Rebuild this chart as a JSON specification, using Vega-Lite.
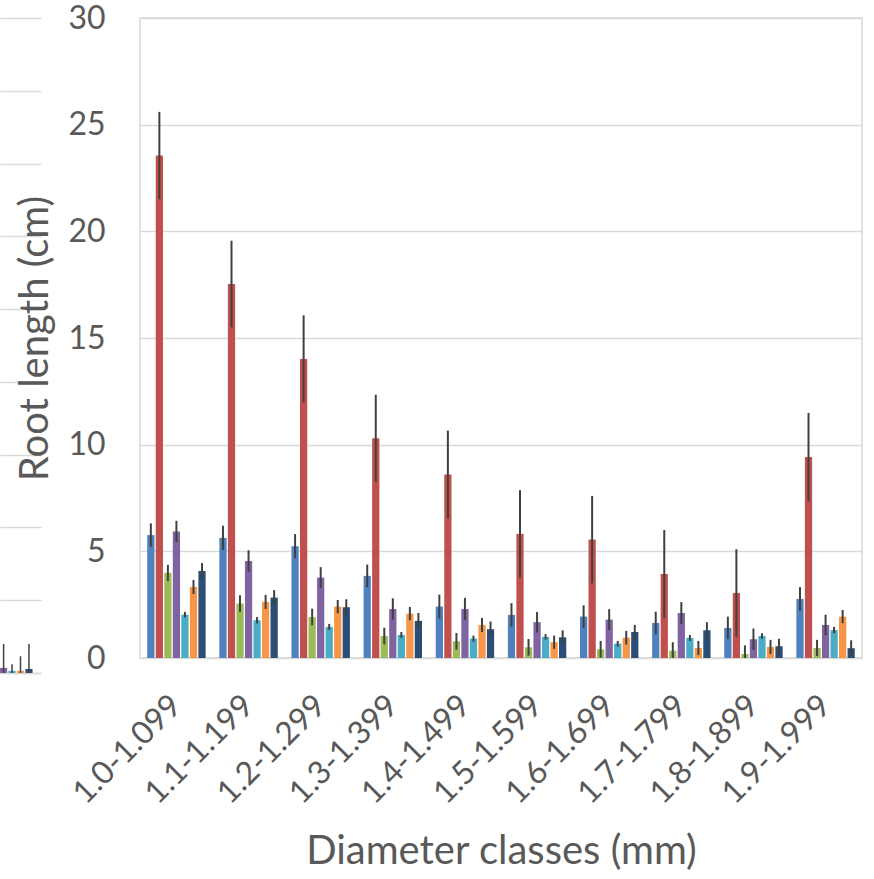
{
  "$schema": "https://vega.github.io/schema/vega-lite/v6.json",
  "padding": {"top": 1, "left": 0, "right": 0, "bottom": 0},
  "autosize": {"type": "pad"},
  "bounds": "flush",
  "spacing": 99,
  "config": {
    "font": "Lato",
    "view": {"stroke": null},
    "axis": {"gridColor": "#d9d9d9", "gridWidth": 1.5, "labelColor": "#595959", "titleColor": "#595959", "titleFontWeight": "normal"}
  },
  "datasets": {
    "main": [
      {"d": "1.0-1.099", "s": "T1", "v": 5.76, "lo": 5.21, "hi": 6.31},
      {"d": "1.0-1.099", "s": "T2", "v": 23.55, "lo": 21.5, "hi": 25.6},
      {"d": "1.0-1.099", "s": "T3", "v": 3.99, "lo": 3.61, "hi": 4.37},
      {"d": "1.0-1.099", "s": "T4", "v": 5.93, "lo": 5.43, "hi": 6.43},
      {"d": "1.0-1.099", "s": "T5", "v": 2.03, "lo": 1.9, "hi": 2.16},
      {"d": "1.0-1.099", "s": "T6", "v": 3.33, "lo": 3.0, "hi": 3.66},
      {"d": "1.0-1.099", "s": "T7", "v": 4.08, "lo": 3.71, "hi": 4.45},
      {"d": "1.1-1.199", "s": "T1", "v": 5.63, "lo": 5.06, "hi": 6.2},
      {"d": "1.1-1.199", "s": "T2", "v": 17.53, "lo": 15.5, "hi": 19.56},
      {"d": "1.1-1.199", "s": "T3", "v": 2.55, "lo": 2.16, "hi": 2.94},
      {"d": "1.1-1.199", "s": "T4", "v": 4.55, "lo": 4.05, "hi": 5.05},
      {"d": "1.1-1.199", "s": "T5", "v": 1.77, "lo": 1.62, "hi": 1.92},
      {"d": "1.1-1.199", "s": "T6", "v": 2.63, "lo": 2.3, "hi": 2.96},
      {"d": "1.1-1.199", "s": "T7", "v": 2.83, "lo": 2.48, "hi": 3.18},
      {"d": "1.2-1.299", "s": "T1", "v": 5.24, "lo": 4.67, "hi": 5.81},
      {"d": "1.2-1.299", "s": "T2", "v": 14.02, "lo": 11.98, "hi": 16.06},
      {"d": "1.2-1.299", "s": "T3", "v": 1.92, "lo": 1.53, "hi": 2.31},
      {"d": "1.2-1.299", "s": "T4", "v": 3.77, "lo": 3.28, "hi": 4.26},
      {"d": "1.2-1.299", "s": "T5", "v": 1.46, "lo": 1.32, "hi": 1.6},
      {"d": "1.2-1.299", "s": "T6", "v": 2.41, "lo": 2.1, "hi": 2.72},
      {"d": "1.2-1.299", "s": "T7", "v": 2.38, "lo": 2.01, "hi": 2.75},
      {"d": "1.3-1.399", "s": "T1", "v": 3.85, "lo": 3.32, "hi": 4.38},
      {"d": "1.3-1.399", "s": "T2", "v": 10.3, "lo": 8.26, "hi": 12.34},
      {"d": "1.3-1.399", "s": "T3", "v": 1.03, "lo": 0.64, "hi": 1.42},
      {"d": "1.3-1.399", "s": "T4", "v": 2.3, "lo": 1.8, "hi": 2.8},
      {"d": "1.3-1.399", "s": "T5", "v": 1.08, "lo": 0.94, "hi": 1.22},
      {"d": "1.3-1.399", "s": "T6", "v": 2.08, "lo": 1.77, "hi": 2.39},
      {"d": "1.3-1.399", "s": "T7", "v": 1.74, "lo": 1.37, "hi": 2.11},
      {"d": "1.4-1.499", "s": "T1", "v": 2.41, "lo": 1.85, "hi": 2.97},
      {"d": "1.4-1.499", "s": "T2", "v": 8.6, "lo": 6.54, "hi": 10.66},
      {"d": "1.4-1.499", "s": "T3", "v": 0.78, "lo": 0.39, "hi": 1.17},
      {"d": "1.4-1.499", "s": "T4", "v": 2.3, "lo": 1.78, "hi": 2.82},
      {"d": "1.4-1.499", "s": "T5", "v": 0.91, "lo": 0.77, "hi": 1.05},
      {"d": "1.4-1.499", "s": "T6", "v": 1.55, "lo": 1.22, "hi": 1.88},
      {"d": "1.4-1.499", "s": "T7", "v": 1.35, "lo": 0.99, "hi": 1.71},
      {"d": "1.5-1.599", "s": "T1", "v": 2.02, "lo": 1.47, "hi": 2.57},
      {"d": "1.5-1.599", "s": "T2", "v": 5.82, "lo": 3.77, "hi": 7.87},
      {"d": "1.5-1.599", "s": "T3", "v": 0.5, "lo": 0.11, "hi": 0.89},
      {"d": "1.5-1.599", "s": "T4", "v": 1.68, "lo": 1.2, "hi": 2.16},
      {"d": "1.5-1.599", "s": "T5", "v": 0.99, "lo": 0.86, "hi": 1.12},
      {"d": "1.5-1.599", "s": "T6", "v": 0.74, "lo": 0.43, "hi": 1.05},
      {"d": "1.5-1.599", "s": "T7", "v": 0.97, "lo": 0.64, "hi": 1.3},
      {"d": "1.6-1.699", "s": "T1", "v": 1.94, "lo": 1.41, "hi": 2.47},
      {"d": "1.6-1.699", "s": "T2", "v": 5.55, "lo": 3.5, "hi": 7.6},
      {"d": "1.6-1.699", "s": "T3", "v": 0.41, "lo": 0.02, "hi": 0.8},
      {"d": "1.6-1.699", "s": "T4", "v": 1.8, "lo": 1.31, "hi": 2.29},
      {"d": "1.6-1.699", "s": "T5", "v": 0.67, "lo": 0.54, "hi": 0.8},
      {"d": "1.6-1.699", "s": "T6", "v": 0.95, "lo": 0.63, "hi": 1.27},
      {"d": "1.6-1.699", "s": "T7", "v": 1.22, "lo": 0.89, "hi": 1.55},
      {"d": "1.7-1.799", "s": "T1", "v": 1.64, "lo": 1.11, "hi": 2.17},
      {"d": "1.7-1.799", "s": "T2", "v": 3.94, "lo": 1.88, "hi": 6.0},
      {"d": "1.7-1.799", "s": "T3", "v": 0.34, "lo": 0, "hi": 0.74},
      {"d": "1.7-1.799", "s": "T4", "v": 2.11, "lo": 1.6, "hi": 2.62},
      {"d": "1.7-1.799", "s": "T5", "v": 0.94, "lo": 0.8, "hi": 1.08},
      {"d": "1.7-1.799", "s": "T6", "v": 0.47, "lo": 0.14, "hi": 0.8},
      {"d": "1.7-1.799", "s": "T7", "v": 1.3, "lo": 0.92, "hi": 1.68},
      {"d": "1.8-1.899", "s": "T1", "v": 1.41, "lo": 0.88, "hi": 1.94},
      {"d": "1.8-1.899", "s": "T2", "v": 3.05, "lo": 1.0, "hi": 5.1},
      {"d": "1.8-1.899", "s": "T3", "v": 0.19, "lo": 0, "hi": 0.59},
      {"d": "1.8-1.899", "s": "T4", "v": 0.88, "lo": 0.38, "hi": 1.38},
      {"d": "1.8-1.899", "s": "T5", "v": 1.03, "lo": 0.9, "hi": 1.16},
      {"d": "1.8-1.899", "s": "T6", "v": 0.52, "lo": 0.19, "hi": 0.85},
      {"d": "1.8-1.899", "s": "T7", "v": 0.55, "lo": 0.2, "hi": 0.9},
      {"d": "1.9-1.999", "s": "T1", "v": 2.77, "lo": 2.22, "hi": 3.32},
      {"d": "1.9-1.999", "s": "T2", "v": 9.42, "lo": 7.35, "hi": 11.49},
      {"d": "1.9-1.999", "s": "T3", "v": 0.47, "lo": 0.09, "hi": 0.85},
      {"d": "1.9-1.999", "s": "T4", "v": 1.55, "lo": 1.07, "hi": 2.03},
      {"d": "1.9-1.999", "s": "T5", "v": 1.31, "lo": 1.16, "hi": 1.46},
      {"d": "1.9-1.999", "s": "T6", "v": 1.94, "lo": 1.63, "hi": 2.25},
      {"d": "1.9-1.999", "s": "T7", "v": 0.46, "lo": 0.09, "hi": 0.83}
    ],
    "left": [
      {"s": "T4", "v": 0.07, "lo": 0, "hi": 0.4},
      {"s": "T5", "v": 0.03, "lo": 0, "hi": 0.12},
      {"s": "T6", "v": 0.03, "lo": 0, "hi": 0.23},
      {"s": "T7", "v": 0.055, "lo": 0, "hi": 0.4}
    ]
  },
  "hconcat": [
    {
      "width": 41,
      "height": 655,
      "data": {"name": "left"},
      "encoding": {
        "x": {
          "field": "s", "type": "nominal",
          "scale": {"domain": ["T4", "T5", "T6", "T7", "pad"], "paddingInner": 0.15, "paddingOuter": 0},
          "axis": {"labels": false, "ticks": false, "title": null, "domain": true, "domainColor": "#d9d9d9", "domainWidth": 1.5, "grid": false}
        }
      },
      "layer": [
        {
          "mark": {"type": "bar"},
          "encoding": {
            "y": {
              "field": "v", "type": "quantitative",
              "scale": {"domain": [0, 9], "nice": false},
              "axis": {"values": [0, 1, 2, 3, 4, 5, 6, 7, 8, 9], "labels": false, "ticks": false, "domain": false, "title": null, "grid": true}
            },
            "color": {
              "field": "s", "type": "nominal",
              "scale": {"domain": ["T1", "T2", "T3", "T4", "T5", "T6", "T7"], "range": ["#4f81bd", "#c0504d", "#9bbb59", "#8064a2", "#4bacc6", "#f79646", "#2c4d75"]},
              "legend": null
            }
          }
        },
        {
          "mark": {"type": "rule", "color": "#404040", "strokeWidth": 1.5},
          "encoding": {
            "y": {"field": "lo", "type": "quantitative"},
            "y2": {"field": "hi"}
          }
        }
      ]
    },
    {
      "width": 722,
      "height": 640,
      "view": {"stroke": "#d9d9d9", "strokeWidth": 1.5},
      "data": {"name": "main"},
      "encoding": {
        "x": {
          "field": "d", "type": "nominal", "sort": null,
          "scale": {"paddingInner": 0.19, "paddingOuter": 0.1},
          "axis": {
            "title": "Diameter classes (mm)",
            "labelAngle": -45, "labelAlign": "right", "labelBaseline": "middle",
            "labelPadding": 42, "labelFontSize": 32, "ticks": false, "domain": false, "grid": false,
            "titleFontSize": 40, "titlePadding": 22
          }
        },
        "xOffset": {"field": "s", "type": "nominal", "scale": {"paddingInner": 0.15}}
      },
      "layer": [
        {
          "mark": {"type": "bar"},
          "encoding": {
            "y": {
              "field": "v", "type": "quantitative",
              "scale": {"domain": [0, 30], "nice": false},
              "axis": {
                "values": [0, 5, 10, 15, 20, 25, 30], "title": "Root length (cm)",
                "grid": true, "ticks": false, "domain": false,
                "labelFontSize": 32, "labelPadding": 35,
                "titleFontSize": 40, "titlePadding": 12
              }
            },
            "color": {
              "field": "s", "type": "nominal",
              "scale": {"domain": ["T1", "T2", "T3", "T4", "T5", "T6", "T7"], "range": ["#4f81bd", "#c0504d", "#9bbb59", "#8064a2", "#4bacc6", "#f79646", "#2c4d75"]},
              "legend": null
            }
          }
        },
        {
          "mark": {"type": "rule", "color": "#404040", "strokeWidth": 2},
          "encoding": {
            "y": {"field": "lo", "type": "quantitative"},
            "y2": {"field": "hi"}
          }
        }
      ]
    }
  ]
}
